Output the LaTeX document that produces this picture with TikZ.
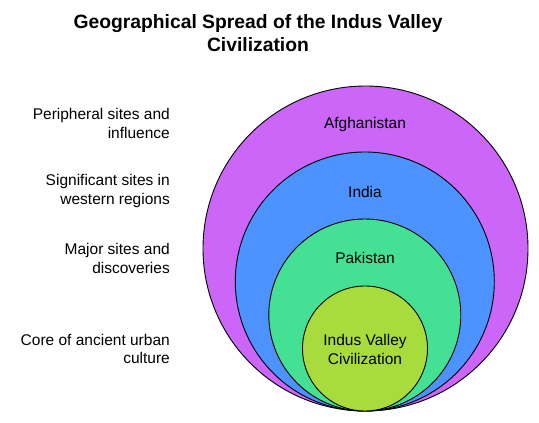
\documentclass[tikz,border=0pt]{standalone}
\usepackage{fontspec}
\setmainfont{Liberation Sans}
\definecolor{cpurple}{HTML}{CC66F8}
\definecolor{cblue}{HTML}{4C93FF}
\definecolor{cgreen}{HTML}{44E094}
\definecolor{clime}{HTML}{A8DC3C}
\tikzset{
  ring/.style={draw=black, line width=0.9pt},
  ringlabel/.style={inner sep=0pt, align=center, font=\fontsize{15.5}{18.5}\selectfont},
  sidelabel/.style={inner sep=0pt, anchor=east, align=right, font=\fontsize{15.5}{18.5}\selectfont},
  titlestyle/.style={inner sep=0pt, align=center, font=\bfseries\fontsize{19.3}{23}\selectfont}
}
\begin{document}
\begin{tikzpicture}[x=1pt,y=-1pt]
\useasboundingbox (0,0) rectangle (539,423);
\fill[white] (0,0) rectangle (539,423);
\node[titlestyle] (title) at (258,33.5) {Geographical Spread of the Indus Valley\\Civilization};
\draw[ring, fill=cpurple] (365.5,248.5) circle (162.5);
\draw[ring, fill=cblue] (364.8,281.5) circle (129.5);
\draw[ring, fill=cgreen] (364.8,315) circle (96);
\draw[ring, fill=clime] (365,348.5) circle (62.5);
\node[ringlabel] (afg) at (365,124) {Afghanistan};
\node[ringlabel] (ind) at (365,191.5) {India};
\node[ringlabel] (pak) at (365,258) {Pakistan};
\node[ringlabel] (ivc) at (365,349.5) {Indus Valley\\Civilization};
\node[sidelabel] (s1) at (170,123.5) {Peripheral sites and\\influence};
\node[sidelabel] (s2) at (170,191) {Significant sites in\\western regions};
\node[sidelabel] (s3) at (170,258.5) {Major sites and\\discoveries};
\node[sidelabel] (s4) at (170,349) {Core of ancient urban\\culture};
\end{tikzpicture}
\end{document}
